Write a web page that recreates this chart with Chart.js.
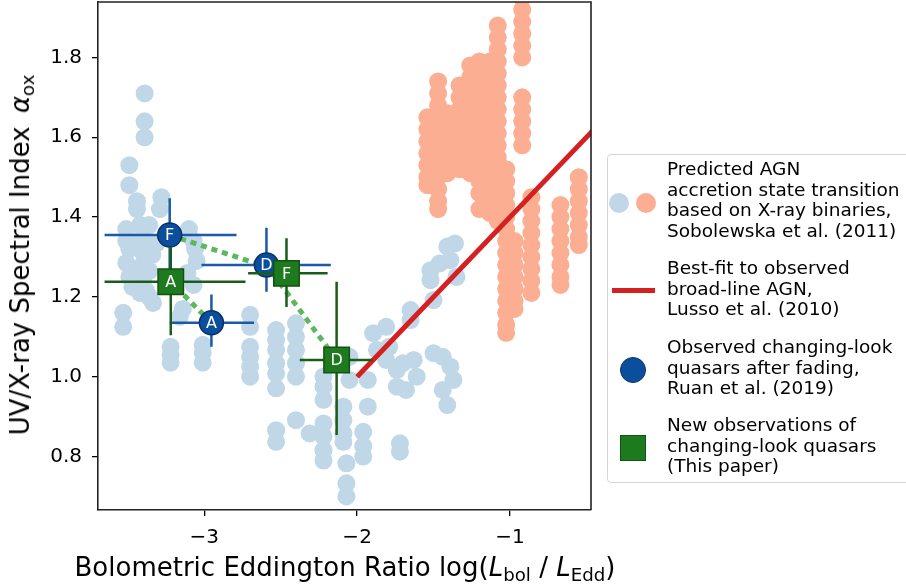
<!DOCTYPE html>
<html>
<head>
<meta charset="utf-8">
<script src="https://cdn.jsdelivr.net/npm/chart.js@4.4.1/dist/chart.umd.min.js"></script>
<style>
  body { margin: 0; background: #fff; }
  #wrap { position: relative; width: 906px; height: 586px; overflow: hidden; font-family: "DejaVu Sans", sans-serif; color: #000; }
  #chart { position: absolute; left: 0; top: 0; }
  .ytitle { position: absolute; left: 20px; top: 255px; transform: translate(-50%, -50%) rotate(-90deg); font-size: 26px; white-space: nowrap; }
  .xtitle { position: absolute; left: 345px; top: 567px; transform: translate(-50%, -50%); font-size: 26px; white-space: nowrap; }
  sub { font-size: 70%; vertical-align: -0.25em; line-height: 0; }
  .legend { position: absolute; left: 607px; top: 154px; width: 310px; height: 329px; border: 1.5px solid #d4d4d4; border-radius: 4px; box-sizing: border-box; }
  .lt { position: absolute; left: 667px; font-size: 18.5px; line-height: 20.7px; white-space: nowrap; }
  .mk { position: absolute; box-sizing: border-box; }
</style>
</head>
<body>
<div id="wrap">
  <canvas id="chart" width="906" height="586"></canvas>
  <div class="ytitle">UV/X-ray Spectral Index <i style="margin-left:5px">α</i><sub>ox</sub></div>
  <div class="xtitle">Bolometric Eddington Ratio log(<i>L</i><sub>bol</sub> / <i>L</i><sub>Edd</sub>)</div>

  <div class="legend"></div>
  <div class="mk" style="left:609px;top:193px;width:20px;height:20px;border-radius:50%;background:#bfd7e7"></div>
  <div class="mk" style="left:636px;top:193px;width:20px;height:20px;border-radius:50%;background:#fbae92"></div>
  <div class="lt" style="top:159px">Predicted AGN<br>accretion state transition<br>based on X-ray binaries,<br>Sobolewska et al. (2011)</div>

  <div class="mk" style="left:612px;top:288px;width:43px;height:5px;background:#d42020"></div>
  <div class="lt" style="top:258px">Best-fit to observed<br>broad-line AGN,<br>Lusso et al. (2010)</div>

  <div class="mk" style="left:620px;top:357px;width:26px;height:26px;border-radius:50%;background:#0b4f9c;border:1.5px solid #08306b"></div>
  <div class="lt" style="top:337px">Observed changing-look<br>quasars after fading,<br>Ruan et al. (2019)</div>

  <div class="mk" style="left:620px;top:435px;width:26px;height:26px;background:#1e7a1e;border:1.5px solid #145214"></div>
  <div class="lt" style="top:415px">New observations of<br>changing-look quasars<br>(This paper)</div>
</div>

<script>
// Ticks
const xTickValues = [-3, -2, -1];
const xTickLabels = ['\u22123', '\u22122', '\u22121'];
const yTickValues = [0.8, 1.0, 1.2, 1.4, 1.6, 1.8];
const yTickLabels = ['0.8', '1.0', '1.2', '1.4', '1.6', '1.8'];

// Sobolewska et al. (2011) - hard state (light blue)
const hardState = [
  [-3.39,1.71],[-3.39,1.64],[-3.39,1.60],
  [-3.49,1.53],[-3.49,1.48],[-3.44,1.44],[-3.44,1.42],[-3.28,1.45],[-3.29,1.42],
  [-3.51,1.37],[-3.42,1.38],[-3.36,1.38],[-3.51,1.34],[-3.44,1.34],[-3.38,1.34],[-3.31,1.335],
  [-3.49,1.32],[-3.40,1.31],[-3.34,1.305],[-3.51,1.285],[-3.42,1.275],[-3.36,1.265],
  [-3.49,1.25],[-3.40,1.24],[-3.47,1.225],[-3.38,1.215],[-3.42,1.21],[-3.36,1.20],[-3.335,1.185],
  [-3.10,1.37],[-3.07,1.34],[-3.06,1.32],[-3.05,1.29],[-3.11,1.26],[-3.07,1.23],[-3.14,1.17],[-3.16,1.15],
  [-3.53,1.16],[-3.53,1.125],
  [-3.22,1.075],[-3.22,1.055],[-3.22,1.035],
  [-3.01,1.08],[-3.01,1.06],[-3.01,1.035],
  [-2.70,1.155],[-2.70,1.125],[-2.70,1.075],[-2.70,1.05],[-2.70,1.025],[-2.70,1.0],
  [-2.53,1.117],[-2.53,1.092],[-2.53,1.067],[-2.53,1.034],[-2.53,1.008],[-2.53,0.971],[-2.53,0.866],[-2.53,0.837],
  [-2.40,1.134],[-2.40,1.10],[-2.40,1.067],[-2.40,1.034],[-2.40,1.0],[-2.40,0.891],
  [-2.31,0.858],
  [-2.22,1.0],[-2.22,0.975],[-2.22,0.942],[-2.22,0.883],[-2.22,0.85],[-2.22,0.816],[-2.22,0.79],
  [-2.09,0.925],[-2.09,0.891],[-2.09,0.858],[-2.09,0.837],
  [-2.07,0.783],[-2.07,0.733],[-2.07,0.70],
  [-2.05,0.992],[-2.05,1.05],
  [-1.96,0.862],[-1.96,0.826],[-1.96,0.80],
  [-1.93,0.992],[-1.93,0.925],
  [-1.72,0.833],[-1.72,0.812],
  [-1.895,1.109],[-1.81,1.125],[-1.87,1.067],[-1.79,1.075],[-1.81,1.042],[-1.70,1.034],
  [-1.74,0.975],[-1.68,0.967],[-1.74,1.017],
  [-1.65,1.167],[-1.65,1.142],[-1.63,1.042],[-1.61,1.0],
  [-1.52,1.267],[-1.52,1.242],[-1.50,1.192],[-1.46,1.284],[-1.41,1.326],[-1.36,1.334],[-1.39,1.292],[-1.35,1.25],
  [-1.50,1.059],[-1.44,1.05],[-1.39,1.025],[-1.37,0.992],[-1.44,0.967],[-1.41,0.929]
];

// Sobolewska et al. (2011) - soft state (salmon)
const softState = [
  [-1.54,1.65],[-1.54,1.62],[-1.54,1.59],[-1.54,1.56],[-1.54,1.53],[-1.54,1.50],[-1.54,1.48],
  [-1.47,1.74],[-1.47,1.71],[-1.47,1.68],[-1.47,1.65],[-1.47,1.62],[-1.47,1.59],[-1.47,1.56],
  [-1.47,1.53],[-1.47,1.50],[-1.47,1.47],[-1.47,1.44],[-1.47,1.42],
  [-1.41,1.66],[-1.41,1.63],[-1.41,1.60],[-1.41,1.57],[-1.41,1.54],[-1.41,1.51],
  [-1.33,1.73],[-1.33,1.70],[-1.33,1.67],[-1.33,1.64],[-1.33,1.61],[-1.33,1.58],[-1.33,1.55],[-1.33,1.52],
  [-1.26,1.78],[-1.26,1.75],[-1.26,1.72],[-1.26,1.69],[-1.26,1.66],[-1.26,1.63],[-1.26,1.60],
  [-1.26,1.57],[-1.26,1.54],[-1.26,1.51],
  [-1.20,1.79],[-1.20,1.76],[-1.20,1.73],[-1.20,1.70],[-1.20,1.67],[-1.20,1.64],[-1.20,1.61],
  [-1.20,1.58],[-1.20,1.55],[-1.20,1.52],[-1.20,1.49],[-1.20,1.46],[-1.20,1.42],
  [-1.13,1.79],[-1.13,1.76],[-1.13,1.73],[-1.13,1.70],[-1.13,1.67],[-1.13,1.64],[-1.13,1.61],
  [-1.13,1.58],[-1.13,1.55],[-1.13,1.52],[-1.13,1.49],[-1.13,1.46],[-1.13,1.43],[-1.13,1.41],
  [-1.08,1.88],[-1.08,1.85],[-1.08,1.82],[-1.08,1.79],[-1.08,1.76],[-1.08,1.73],[-1.08,1.70],
  [-1.08,1.67],[-1.08,1.64],[-1.08,1.61],[-1.08,1.58],[-1.08,1.55],[-1.08,1.52],[-1.08,1.49],
  [-1.08,1.46],[-1.08,1.43],[-1.08,1.39],
  [-1.025,1.52],[-1.025,1.49],[-1.025,1.46],[-1.025,1.43],[-1.025,1.40],[-1.025,1.37],[-1.025,1.34],
  [-1.025,1.31],[-1.025,1.28],[-1.025,1.25],[-1.025,1.22],[-1.025,1.19],[-1.025,1.16],[-1.025,1.13],[-1.025,1.11],
  [-0.97,1.34],[-0.97,1.31],[-0.97,1.28],[-0.97,1.25],[-0.97,1.22],[-0.97,1.19],[-0.97,1.17],
  [-0.92,1.95],[-0.92,1.92],[-0.92,1.89],[-0.92,1.86],[-0.92,1.83],[-0.92,1.80],
  [-0.92,1.70],[-0.92,1.67],[-0.92,1.64],[-0.92,1.61],[-0.92,1.58],
  [-0.86,1.45],[-0.86,1.42],[-0.86,1.39],[-0.86,1.36],[-0.86,1.33],[-0.86,1.30],[-0.86,1.27],[-0.86,1.24],[-0.86,1.21],
  [-0.67,1.43],[-0.67,1.40],[-0.67,1.37],[-0.67,1.34],[-0.67,1.31],[-0.67,1.28],[-0.67,1.25],[-0.67,1.23],
  [-0.55,1.50],[-0.55,1.47],[-0.55,1.44],[-0.55,1.41],[-0.55,1.38],[-0.55,1.35],[-0.55,1.33]
];

// Lusso et al. (2010) best fit
const lussoX = [-2.0, -0.3];
const lussoY = [1.0, 1.68];

// Ruan et al. (2019)
const ruanLetters = ['F', 'D', 'A'];
const ruanX = [-3.226, -2.593, -2.953];
const ruanY = [1.355, 1.280, 1.135];
const ruanXLo = [0.426, 0.425, 0.273];
const ruanXHi = [0.437, 0.421, 0.279];
const ruanYLo = [0.092, 0.067, 0.060];
const ruanYHi = [0.092, 0.093, 0.071];

// New observations (this paper)
const newLetters = ['A', 'F', 'D'];
const newX = [-3.219, -2.462, -2.134];
const newY = [1.238, 1.259, 1.042];
const newXLo = [0.433, 0.251, 0.241];
const newXHi = [0.489, 0.269, 0.235];
const newYLo = [0.134, 0.084, 0.188];
const newYHi = [0.088, 0.088, 0.196];

function toPts(list) {
    return list.map(p => ({ x: p[0], y: p[1] }));
}

// error bars as line pieces, broken by null points
function barPts(xs, ys, xlo, xhi, ylo, yhi) {
    const out = [];
    xs.forEach((x, i) => {
        const y = ys[i];
        out.push({ x: x - xlo[i], y: y }, { x: x + xhi[i], y: y }, { x: x, y: null });
        out.push({ x: x, y: y - ylo[i] }, { x: x, y: y + yhi[i] }, { x: x, y: null });
    });
    return out;
}

// dotted links between the same object before/after
const links = [];
ruanLetters.forEach((l, i) => {
    const j = newLetters.indexOf(l);
    links.push({ x: ruanX[i], y: ruanY[i] }, { x: newX[j], y: newY[j] }, { x: newX[j], y: null });
});

const extras = {
    id: 'extras',
    afterDatasetsDraw(chart) {
        const ctx = chart.ctx;
        const a = chart.chartArea;
        ctx.save();
        ctx.font = '16px "DejaVu Sans"';
        ctx.fillStyle = '#fff';
        ctx.textAlign = 'center';
        ctx.textBaseline = 'middle';
        chart.getDatasetMeta(5).data.forEach((p, i) => ctx.fillText(ruanLetters[i], p.x, p.y + 1));
        chart.getDatasetMeta(7).data.forEach((p, i) => ctx.fillText(newLetters[i], p.x, p.y + 1));
        // top and right spines
        ctx.strokeStyle = '#222';
        ctx.lineWidth = 1.6;
        ctx.beginPath();
        ctx.moveTo(a.left, a.top);
        ctx.lineTo(a.right, a.top);
        ctx.lineTo(a.right, a.bottom);
        ctx.stroke();
        ctx.restore();
    }
};

const tickFont = { family: 'DejaVu Sans', size: 20 };

new Chart(document.getElementById('chart'), {
    type: 'scatter',
    data: {
        datasets: [
            { data: toPts(hardState), backgroundColor: '#bfd7e7', pointRadius: 9, borderWidth: 0, order: 10, clip: 0 },
            { data: toPts(softState), backgroundColor: '#fbae92', pointRadius: 9, borderWidth: 0, order: 9, clip: 0 },
            { data: lussoX.map((x, i) => ({ x: x, y: lussoY[i] })), showLine: true, pointRadius: 0,
              borderColor: '#d42020', borderWidth: 5, order: 8, clip: 0 },
            { data: links, showLine: true, pointRadius: 0, borderColor: '#5cb85c', borderWidth: 5,
              borderDash: [6, 5], order: 7, clip: 0 },
            { data: barPts(ruanX, ruanY, ruanXLo, ruanXHi, ruanYLo, ruanYHi), showLine: true, pointRadius: 0,
              borderColor: '#1a5aa6', borderWidth: 2.5, order: 6, clip: 0 },
            { data: ruanX.map((x, i) => ({ x: x, y: ruanY[i] })), pointRadius: 12, backgroundColor: '#0b4f9c',
              borderColor: '#08306b', borderWidth: 1.5, order: 5, clip: 0 },
            { data: barPts(newX, newY, newXLo, newXHi, newYLo, newYHi), showLine: true, pointRadius: 0,
              borderColor: '#1a5c1a', borderWidth: 2.5, order: 4, clip: 0 },
            { data: newX.map((x, i) => ({ x: x, y: newY[i] })), pointStyle: 'rect', pointRadius: 18,
              backgroundColor: '#1e7a1e', borderColor: '#145214', borderWidth: 1.5, order: 3, clip: 0 }
        ]
    },
    options: {
        responsive: false,
        animation: false,
        events: [],
        layout: { autoPadding: false, padding: { top: 2, right: 315, left: 0, bottom: 0 } },
        plugins: { legend: { display: false }, tooltip: { enabled: false } },
        scales: {
            x: {
                type: 'linear', min: -3.695, max: -0.47,
                afterBuildTicks: s => { s.ticks = xTickValues.map(v => ({ value: v })); },
                afterFit: s => { s.height = 76; s.paddingLeft = 0; s.paddingRight = 0; },
                grid: { display: true, drawOnChartArea: false, drawTicks: true, tickLength: 6, color: '#000', lineWidth: 1.3 },
                border: { display: true, color: '#222', width: 1.6, z: 1 },
                ticks: { font: tickFont, color: '#000', padding: 10, maxRotation: 0, autoSkip: false,
                         callback: (v, i) => xTickLabels[i] }
            },
            y: {
                type: 'linear', min: 0.666, max: 1.939,
                afterBuildTicks: s => { s.ticks = yTickValues.map(v => ({ value: v })); },
                afterFit: s => { s.width = 98; s.paddingTop = 0; s.paddingBottom = 0; },
                grid: { display: true, drawOnChartArea: false, drawTicks: true, tickLength: 6, color: '#000', lineWidth: 1.3 },
                border: { display: true, color: '#222', width: 1.6, z: 1 },
                ticks: { font: tickFont, color: '#000', padding: 10, autoSkip: false,
                         callback: (v, i) => yTickLabels[i] }
            }
        }
    },
    plugins: [extras]
});
</script>
</body>
</html>
